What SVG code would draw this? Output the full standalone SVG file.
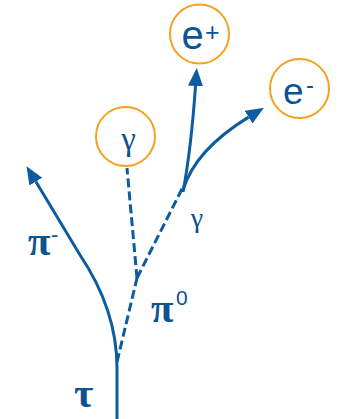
<svg xmlns="http://www.w3.org/2000/svg" width="338" height="419" viewBox="0 0 338 419">
<style>
.ring{fill:#fff;stroke:#F5A01F;stroke-width:2}
.trk{fill:none;stroke:#0B5CA1;stroke-width:3}
.dash{fill:none;stroke:#0B5CA1;stroke-width:3;stroke-dasharray:9,4}
.lat{font-family:"Liberation Sans",Arial,sans-serif;fill:#0D5291}
.grk{font-family:"Liberation Serif","Times New Roman",serif;fill:#0D5291}
</style>
<defs>
<marker id="ah" markerUnits="userSpaceOnUse" markerWidth="20" markerHeight="16" refX="0" refY="7.5" orient="auto">
<path d="M0,0 L18,7.5 L0,15 z" fill="#0B5CA1"/>
</marker>
</defs>
<rect width="338" height="419" fill="#fff"/>
<g id="connectors">
<path class="trk" d="M117,419 L117,368"/>
<path class="trk" d="M117,368 Q117,310 80,255 L35.8,181.6" marker-end="url(#ah)"/>
<path class="dash" d="M117,362 L137,278"/>
<path class="dash" d="M137,278 L127,168"/>
<path class="dash" d="M137,278 L183,187"/>
<path class="trk" d="M183,192 Q191,150 195.5,86" marker-end="url(#ah)"/>
<path class="trk" d="M183,190 Q195,150 248.6,117.1" marker-end="url(#ah)"/>
</g>
<g id="node-eplus">
<circle class="ring" cx="199.5" cy="34" r="29.5"/>
<text class="lat" x="181.5" y="48.5" font-size="40">e</text>
<text class="lat" x="205" y="40.5" font-size="25">+</text>
</g>
<g id="node-eminus">
<circle class="ring" cx="299.5" cy="88.5" r="29.5"/>
<text class="lat" x="283" y="103.5" font-size="37">e</text>
<text class="lat" x="306" y="93" font-size="24">-</text>
</g>
<g id="node-gamma">
<circle class="ring" cx="125.5" cy="136.5" r="29.5"/>
<text class="grk" x="128.5" y="150" font-size="33" text-anchor="middle">γ</text>
</g>
<g id="labels">
<text class="grk" x="28" y="255" font-size="41" font-weight="bold">π</text>
<text class="lat" x="51" y="242" font-size="22">-</text>
<text class="grk" x="151" y="322" font-size="41" font-weight="bold">π</text>
<text class="lat" x="176" y="305" font-size="21">0</text>
<text class="grk" x="74" y="407" font-size="42" font-weight="bold">τ</text>
<text class="grk" x="197" y="227" font-size="28" text-anchor="middle">γ</text>
</g>
</svg>
